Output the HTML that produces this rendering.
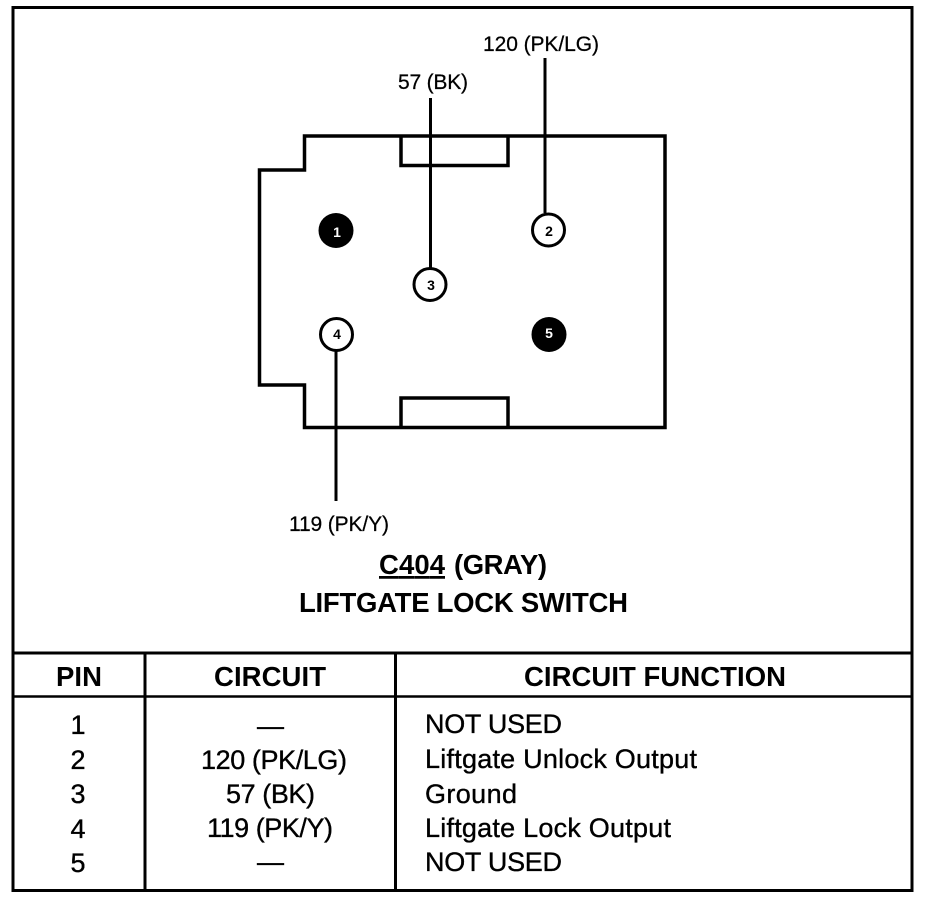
<!DOCTYPE html>
<html><head><meta charset="utf-8"><style>
html,body{margin:0;padding:0;background:#fff}
svg{display:block}
text{font-family:"Liberation Sans",sans-serif;fill:#000}
.r{stroke:#000;stroke-width:.35}
</style></head><body>
<svg width="928" height="900" viewBox="0 0 928 900" xmlns="http://www.w3.org/2000/svg">
<rect width="928" height="900" fill="#fff"/>
<g fill="none" stroke="#000">
<rect x="13" y="7.5" width="899" height="883" stroke-width="3"/>
<path d="M13 653H912" stroke-width="3"/>
<path d="M13 696.500H912" stroke-width="2.500"/>
<path d="M145 653V891M395.500 653V891" stroke-width="3"/>
<path d="M304.500 136H665V427.500H304.500V385H259.500V170H304.500Z" stroke-width="3.500"/>
<path d="M401 136V165.500H508V136" stroke-width="3.500"/>
<path d="M401 427V398H508V427" stroke-width="3.500"/>
<path d="M430.500 98V268M545 58V213M336 350V501" stroke-width="3"/>
<circle cx="336" cy="230.500" r="17.500" fill="#000" stroke="none"/>
<circle cx="549" cy="334.500" r="17.500" fill="#000" stroke="none"/>
<circle cx="548.500" cy="230" r="16" fill="#fff" stroke-width="3"/>
<circle cx="430" cy="284.500" r="16" fill="#fff" stroke-width="3"/>
<circle cx="336.500" cy="334.500" r="16" fill="#fff" stroke-width="3"/>
</g>
<g font-size="14" font-weight="700" text-anchor="middle">
<text x="337" y="237" style="fill:#fff">1</text>
<text x="549" y="236">2</text>
<text x="431" y="290">3</text>
<text x="337" y="339">4</text>
<text x="549" y="338" style="fill:#fff">5</text>
</g>
<g font-size="21" class="r" style="stroke-width:.25">
<text x="483" y="51" textLength="116" lengthAdjust="spacing">120 (PK/LG)</text>
<text x="398" y="89" textLength="70" lengthAdjust="spacing">57 (BK)</text>
<text x="289" y="531" textLength="100" lengthAdjust="spacing">119 (PK/Y)</text>
</g>
<g font-size="27.500" font-weight="700">
<text x="379" y="574" textLength="66" lengthAdjust="spacing" text-decoration="underline">C404</text>
<text x="454" y="574" textLength="93" lengthAdjust="spacing">(GRAY)</text>
<text x="299" y="612" textLength="329" lengthAdjust="spacing">LIFTGATE LOCK SWITCH</text>
<text x="56" y="686" textLength="46" lengthAdjust="spacing">PIN</text>
<text x="214" y="686" textLength="112" lengthAdjust="spacing">CIRCUIT</text>
<text x="524" y="686" textLength="262" lengthAdjust="spacing">CIRCUIT FUNCTION</text>
</g>
<g font-size="27" class="r">
<g text-anchor="middle">
<text x="78" y="734">1</text>
<text x="78" y="769">2</text>
<text x="78" y="803">3</text>
<text x="78" y="838">4</text>
<text x="78" y="872">5</text>
<text x="270.500" y="735">—</text>
<text x="270.500" y="871">—</text>
</g>
<text x="201" y="769" textLength="146" lengthAdjust="spacing">120 (PK/LG)</text>
<text x="226" y="803" textLength="89" lengthAdjust="spacing">57 (BK)</text>
<text x="207" y="837" textLength="126" lengthAdjust="spacing">119 (PK/Y)</text>
<text x="425" y="733" textLength="137" lengthAdjust="spacing">NOT USED</text>
<text x="425" y="768" textLength="272" lengthAdjust="spacing">Liftgate Unlock Output</text>
<text x="425" y="803" textLength="92" lengthAdjust="spacing">Ground</text>
<text x="425" y="837" textLength="246" lengthAdjust="spacing">Liftgate Lock Output</text>
<text x="425" y="871" textLength="137" lengthAdjust="spacing">NOT USED</text>
</g>
</svg>
</body></html>
